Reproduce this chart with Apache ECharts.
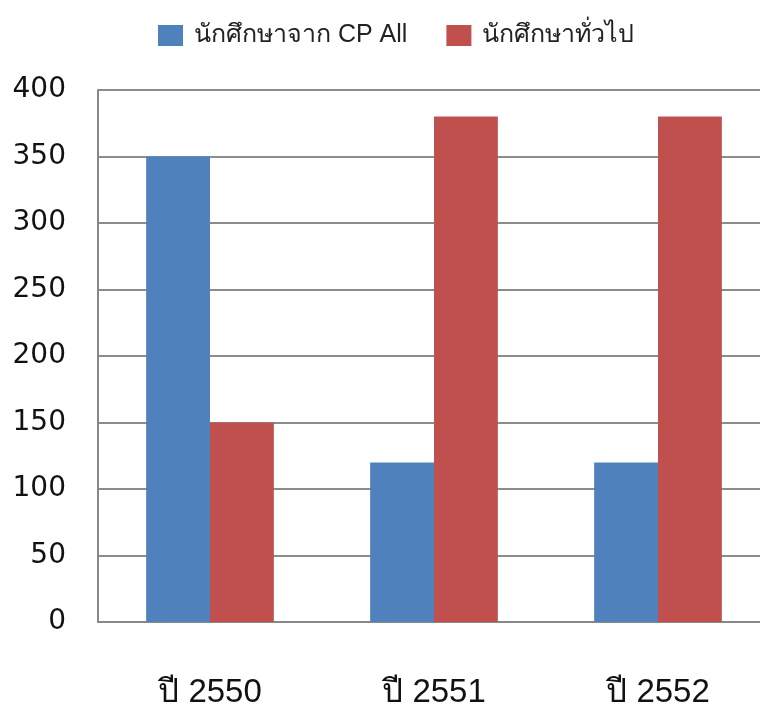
<!DOCTYPE html>
<html><head><meta charset="utf-8">
<script src="https://cdn.jsdelivr.net/npm/echarts@6/dist/echarts.min.js"></script>
<style>html,body{margin:0;padding:0;background:#fff}#c{width:760px;height:704px}</style>
</head><body><div id="c"></div>
<script>
const categories = ['ปี 2550', 'ปี 2551', 'ปี 2552'];
const seriesNames = ['นักศึกษาจาก CP All', 'นักศึกษาทั่วไป'];
const cpAll = [350, 120, 120];
const general = [150, 380, 380];
const yTicks = [0, 50, 100, 150, 200, 250, 300, 350, 400];

const chart = echarts.init(document.getElementById('c'));
chart.setOption({
  animation: false,
  backgroundColor: '#fff',
  legend: {
    top: 18, left: 153,
    itemWidth: 25, itemHeight: 21, itemGap: 39,
    textStyle: { fontSize: 25, color: '#222', fontFamily: 'Liberation Sans, Noto Sans, sans-serif', padding: [0, 0, 0, 6] },
    data: seriesNames,
    icon: 'rect'
  },
  grid: { left: 98, width: 672, top: 90, height: 532, containLabel: false, outerBoundsMode: 'none' },
  xAxis: {
    type: 'category', data: categories,
    axisLine: { lineStyle: { color: '#888', width: 2 } },
    axisTick: { show: false },
    axisLabel: { fontSize: 33, color: '#111', margin: 54, fontFamily: 'Liberation Sans, Noto Sans, sans-serif' }
  },
  yAxis: {
    type: 'value', min: 0, max: 400, interval: 50,
    axisLine: { show: true, lineStyle: { color: '#888', width: 2 } },
    axisTick: { show: false },
    splitLine: { lineStyle: { color: '#8c8c8c', width: 2 } },
    axisLabel: { fontSize: 28, color: '#111', margin: 32, padding: [8, 0, 0, 0], fontFamily: 'DejaVu Sans, sans-serif',
      formatter: v => yTicks.includes(v) ? String(v) : '' }
  },
  series: [
    { name: seriesNames[0], type: 'bar', data: cpAll, barGap: '0%', barCategoryGap: '43%',
      itemStyle: { color: '#4f81bd' } },
    { name: seriesNames[1], type: 'bar', data: general, barGap: '0%', barCategoryGap: '43%',
      itemStyle: { color: '#c0504d' } }
  ]
});
</script></body></html>
